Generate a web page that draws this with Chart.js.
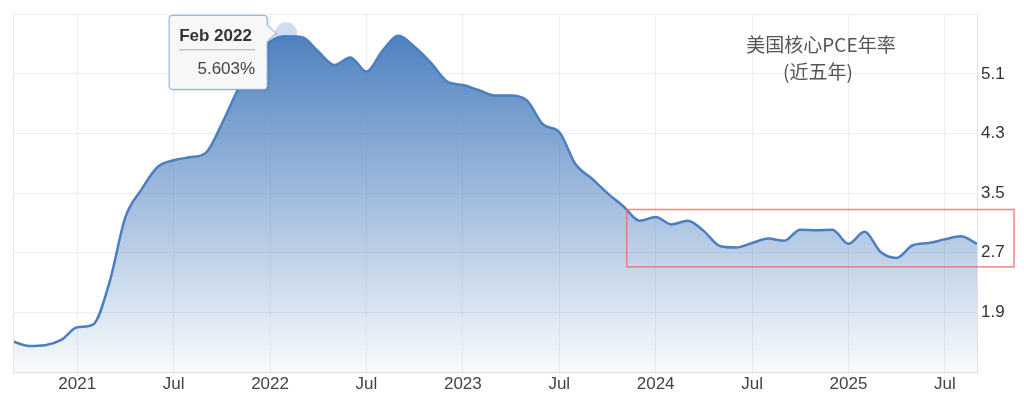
<!DOCTYPE html>
<html lang="zh">
<head>
<meta charset="UTF-8">
<script src="https://cdn.jsdelivr.net/npm/chart.js"></script>
<title>美国核心PCE年率</title>
<style>
  body { margin: 0; background: #fff; }
</style>
</head>
<body>
<canvas id="pceChart" width="1024" height="399"></canvas>
<script>
// monthly core PCE YoY, Sep 2020 .. Sep 2025
const corePce = [
  1.51, 1.45, 1.46, 1.53,
  1.70, 1.74, 2.30, 3.18, 3.55, 3.85, 3.94, 3.98, 4.04, 4.43, 4.89, 5.25,
  5.53, 5.603, 5.59, 5.40, 5.22, 5.32, 5.13, 5.41, 5.61, 5.46, 5.25, 5.00,
  4.95, 4.88, 4.81, 4.81, 4.74, 4.42, 4.32, 3.89, 3.70, 3.50, 3.32, 3.13,
  3.18, 3.08, 3.13, 2.99, 2.79, 2.77, 2.83, 2.89, 2.86, 3.01, 3.00, 3.01,
  2.82, 2.98, 2.71, 2.63, 2.80, 2.83, 2.88, 2.92, 2.82
];
const monNames = ['Jan','Feb','Mar','Apr','May','Jun','Jul','Aug','Sep','Oct','Nov','Dec'];
const startYear = 2020, startMonth = 8; // Sep 2020
const months = corePce.map((_, i) => {
  const m = startMonth + i;
  return monNames[m % 12] + ' ' + (startYear + Math.floor(m / 12));
});

const xTickIdx = [4, 10, 16, 22, 28, 34, 40, 46, 52, 58];
const xTickLabels = ['2021', 'Jul', '2022', 'Jul', '2023', 'Jul', '2024', 'Jul', '2025', 'Jul'];
const yTicks = [1.1, 1.9, 2.7, 3.5, 4.3, 5.1, 5.9];
const yLabelled = [1.9, 2.7, 3.5, 4.3, 5.1];

const tipIndex = 17;
const tipText = '5.603%';
const titleLines = ['美国核心PCE年率', '(近五年)'];
const boxRange = { x0: 38.2, yLow: 2.51, yHigh: 3.28 };

const overlay = {
  id: 'overlay',
  beforeDatasetsDraw(chart) {
    const ctx = chart.ctx;
    const pt = chart.getDatasetMeta(0).data[tipIndex];
    ctx.save();
    ctx.fillStyle = 'rgba(196,212,235,0.8)';
    ctx.beginPath();
    ctx.arc(pt.x, pt.y - 3, 11, 0, Math.PI * 2);
    ctx.fill();
    ctx.restore();
  },
  afterDatasetsDraw(chart) {
    const { ctx, chartArea, scales: { x, y } } = chart;
    ctx.save();

    // left edge line
    ctx.strokeStyle = '#e6e6e6';
    ctx.lineWidth = 1;
    ctx.beginPath();
    ctx.moveTo(chartArea.left + 0.5, chartArea.top);
    ctx.lineTo(chartArea.left + 0.5, chartArea.bottom);
    ctx.stroke();

    // red highlight box
    const bx = x.getPixelForValue(boxRange.x0);
    const bTop = y.getPixelForValue(boxRange.yHigh);
    const bBot = y.getPixelForValue(boxRange.yLow);
    ctx.strokeStyle = 'rgba(238,110,110,0.85)';
    ctx.lineWidth = 1.5;
    ctx.strokeRect(bx, bTop, chart.width - 10 - bx, bBot - bTop);

    // title
    ctx.fillStyle = '#555';
    ctx.font = '19px "Noto Sans CJK SC", sans-serif';
    ctx.textAlign = 'center';
    ctx.textBaseline = 'middle';
    ctx.fillText(titleLines[0], 821, 45);
    ctx.fillText(titleLines[1], 818, 72);

    // tooltip
    const pt = chart.getDatasetMeta(0).data[tipIndex];
    const px = pt.x, py = pt.y;
    const L = px - 117, R = px - 19, T = py - 21, B = py + 53, r = 3;
    const cy = py - 3;
    ctx.beginPath();
    ctx.moveTo(L + r, T);
    ctx.lineTo(R - r, T);
    ctx.quadraticCurveTo(R, T, R, T + r);
    ctx.lineTo(R, cy - 8);
    ctx.lineTo(R + 9, cy);
    ctx.lineTo(R, cy + 8);
    ctx.lineTo(R, B - r);
    ctx.quadraticCurveTo(R, B, R - r, B);
    ctx.lineTo(L + r, B);
    ctx.quadraticCurveTo(L, B, L, B - r);
    ctx.lineTo(L, T + r);
    ctx.quadraticCurveTo(L, T, L + r, T);
    ctx.closePath();
    ctx.shadowColor = 'rgba(0,0,0,0.18)';
    ctx.shadowBlur = 3;
    ctx.shadowOffsetX = 1;
    ctx.shadowOffsetY = 1;
    ctx.fillStyle = '#f7f7f7';
    ctx.fill();
    ctx.shadowColor = 'transparent';
    ctx.strokeStyle = '#86acd9';
    ctx.lineWidth = 1;
    ctx.stroke();

    ctx.fillStyle = '#333';
    ctx.textAlign = 'left';
    ctx.font = 'bold 17px "Liberation Sans", Arial, sans-serif';
    ctx.fillText(months[tipIndex], L + 10, py);
    ctx.strokeStyle = '#aaa';
    ctx.beginPath();
    ctx.moveTo(L + 10, py + 13.5);
    ctx.lineTo(R - 12, py + 13.5);
    ctx.stroke();
    ctx.fillStyle = '#444';
    ctx.textAlign = 'right';
    ctx.font = '17px "Liberation Sans", Arial, sans-serif';
    ctx.fillText(tipText, R - 12, py + 33);

    ctx.restore();
  }
};

new Chart(document.getElementById('pceChart'), {
  type: 'line',
  data: {
    datasets: [{
      data: corePce.map((v, i) => ({ x: i, y: v })),
      borderColor: '#4a7fc1',
      borderWidth: 2.5,
      pointRadius: 0,
      cubicInterpolationMode: 'monotone',
      fill: 'start',
      backgroundColor: (c) => {
        const a = c.chart.chartArea;
        if (!a) return 'rgba(68,122,188,0.5)';
        const g = c.chart.ctx.createLinearGradient(0, a.top, 0, a.bottom);
        g.addColorStop(0, 'rgba(68,122,188,1)');
        g.addColorStop(1, 'rgba(68,122,188,0.03)');
        return g;
      }
    }]
  },
  options: {
    responsive: false,
    animation: false,
    layout: { padding: { left: 13, top: 14, right: 0, bottom: 0 } },
    plugins: { legend: { display: false }, tooltip: { enabled: false } },
    scales: {
      x: {
        type: 'linear',
        min: 0,
        max: corePce.length - 1,
        afterBuildTicks: (s) => { s.ticks = xTickIdx.map(v => ({ value: v })); },
        afterFit: (s) => { s.height = 27; },
        ticks: {
          callback: (v) => xTickLabels[xTickIdx.indexOf(v)],
          color: '#444',
          font: { family: '"Liberation Sans", Arial, sans-serif', size: 17 },
          padding: 2,
          maxRotation: 0,
          autoSkip: false
        },
        grid: { color: '#e0e0e0', drawTicks: false },
        border: { display: true, color: '#dcdcdc', dash: [1, 1] }
      },
      y: {
        position: 'right',
        min: 1.1,
        max: 5.9,
        afterBuildTicks: (s) => { s.ticks = yTicks.map(v => ({ value: v })); },
        afterFit: (s) => { s.width = 47; },
        ticks: {
          callback: (v) => yLabelled.includes(v) ? v.toFixed(1) : '',
          color: '#333',
          font: { family: '"Liberation Sans", Arial, sans-serif', size: 17 },
          padding: 4
        },
        grid: { color: '#e0e0e0', drawTicks: false },
        border: { display: true, color: '#e0e0e0', dash: [1, 1] }
      }
    }
  },
  plugins: [overlay]
});
</script>
</body>
</html>
